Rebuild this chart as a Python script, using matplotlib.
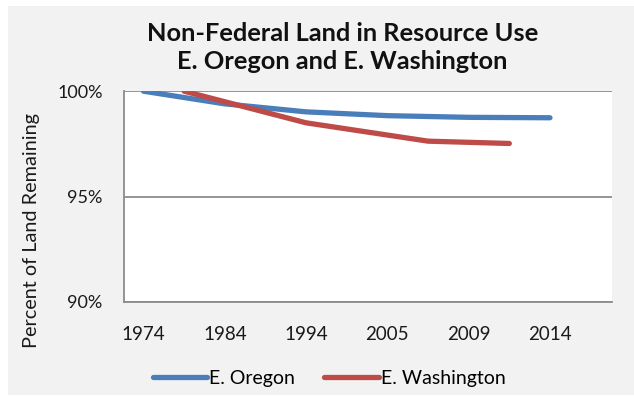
import matplotlib.pyplot as plt
from matplotlib.patches import Rectangle
from matplotlib.ticker import FuncFormatter

years = ['1974', '1984', '1994', '2005', '2009', '2014']

# Oregon sits on the year slots, Washington between them
oregon_x = [0, 1, 2, 3, 4, 5]
oregon_pct = [100.0, 99.4, 99.02, 98.84, 98.76, 98.74]
washington_x = [0.5, 2, 3.5, 4.5]
washington_pct = [100.0, 98.5, 97.63, 97.52]

blue = '#4a7ebb'
red = '#be4b48'
grid_gray = '#8c8c8c'

plt.rcParams['font.family'] = ['Lato', 'DejaVu Sans']

fig = plt.figure(figsize=(6.34, 3.98), dpi=100)
fig.patch.set_facecolor('white')
fig.patches.append(Rectangle((8 / 634, 3 / 398), 626 / 634, 389 / 398,
                             transform=fig.transFigure, facecolor='#f2f2f2',
                             edgecolor='none', zorder=-10))

ax = fig.add_axes([123.5 / 634, 96 / 398, 488.5 / 634, 210.8 / 398])
ax.set_facecolor('white')

ax.plot(oregon_x, oregon_pct, color=blue, lw=3.8, solid_capstyle='round',
        solid_joinstyle='round', label='E. Oregon', zorder=3)
ax.plot(washington_x, washington_pct, color=red, lw=3.8, solid_capstyle='round',
        solid_joinstyle='round', label='E. Washington', zorder=3)

ax.set_xlim(-0.246, 5.763)
ax.set_ylim(90, 100)
ax.set_yticks([90, 95, 100])
ax.yaxis.set_major_formatter(FuncFormatter(lambda v, p: f'{v:.0f}%'))
ax.set_xticks(range(len(years)))
ax.set_xticklabels(years)

ax.grid(axis='y', color=grid_gray, lw=1.3, zorder=1)
for side in ['top', 'right']:
    ax.spines[side].set_visible(False)
for side in ['left', 'bottom']:
    ax.spines[side].set_color(grid_gray)
    ax.spines[side].set_linewidth(1.3)
ax.tick_params(axis='both', length=0, colors='#1a1a1a')
ax.tick_params(axis='x', pad=17, labelsize=13.5)
ax.tick_params(axis='y', pad=15, labelsize=13)

ax.set_ylabel('Percent of Land Remaining', fontsize=14.3, color='#1a1a1a')
ax.yaxis.set_label_coords(-0.17, 0.34)

fig.text(0.54, 0.88, 'Non-Federal Land in Resource Use\nE. Oregon and E. Washington',
         ha='center', va='center', fontsize=18.3, fontweight='bold',
         linespacing=1.25, color='#111111')

fig.legend(loc='center', bbox_to_anchor=(0.519, 0.05), ncol=2, frameon=False,
           fontsize=14, handlelength=2.8, handletextpad=0.1, columnspacing=1.5)

fig.savefig('out.png', dpi=100)
